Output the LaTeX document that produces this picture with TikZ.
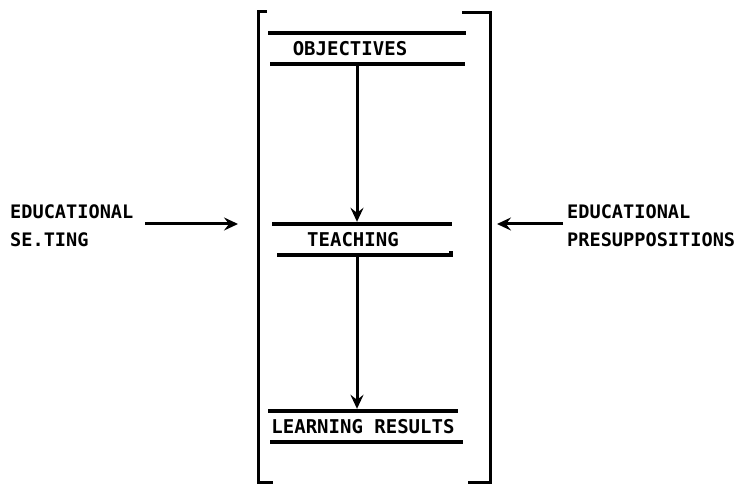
\documentclass[tikz,border=0pt]{standalone}
\usepackage{fontspec}
\setmainfont{DejaVu Sans Mono}
\usetikzlibrary{arrows.meta}
\begin{document}
\begin{tikzpicture}[x=1pt,y=-1pt,
  lbl/.style={font=\bfseries\fontsize{18.6}{28}\selectfont, inner sep=0pt, align=left},
  boxtxt/.style={font=\bfseries\fontsize{19}{20}\selectfont, inner sep=0pt, minimum height=31pt},
  rule/.style={line width=3.2pt},
  brk/.style={line width=3pt},
  arr/.style={line width=3pt, -{Stealth[length=14pt,width=13pt,inset=5pt]}}]
\useasboundingbox (0,0) rectangle (739,486);
% brackets
\draw[brk] (267,12) -- (258,12) -- (258,482) -- (273,482);
\draw[brk] (462,13) -- (490,13) -- (490,482) -- (468,482);
% boxes
\node[boxtxt] (obj) at (350,48.5) {OBJECTIVES};
\draw[rule] (268,33) -- (466,33);
\draw[rule] (270,64) -- (465,64);
\node[boxtxt] (teach) at (353,239.5) {TEACHING};
\draw[rule] (272,224) -- (452,224);
\draw[rule] (277,255) -- (451,255) -- (451,251);
\node[boxtxt] (learn) at (363,426.5) {LEARNING RESULTS};
\draw[rule] (268,411) -- (458,411);
\draw[rule] (270,442) -- (463,442);
% vertical arrows
\draw[arr] ([xshift=7pt,yshift=2pt]obj.south) -- ([xshift=4pt,yshift=2pt]teach.north);
\draw[arr] ([xshift=4pt,yshift=2pt]teach.south) -- ([xshift=-6pt,yshift=2pt]learn.north);
% side labels
\node[lbl, anchor=west] (lt) at (10,226) {EDUCATIONAL\\SE.TING};
\node[lbl, anchor=west] (rt) at (567,226) {EDUCATIONAL\\PRESUPPOSITIONS};
\coordinate (lb) at (238,224);
\coordinate (rb) at (497,224);
\draw[arr] (145,224) -- (lb);
\draw[arr] (563,224) -- (rb);
\end{tikzpicture}
\end{document}
